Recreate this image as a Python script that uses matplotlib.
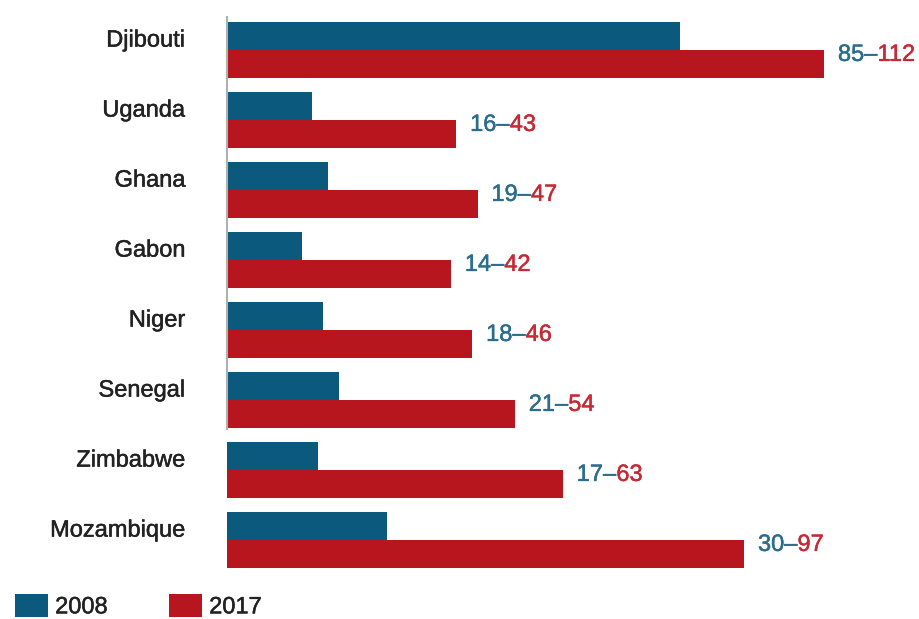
"""
Horizontal paired bar chart: 2008 vs 2017 values by country
"""

import matplotlib
matplotlib.use('Agg')
import matplotlib.pyplot as plt
import matplotlib.patheffects as pe
from matplotlib.patches import Patch
from matplotlib.offsetbox import TextArea, HPacker, AnnotationBbox

countries = ['Djibouti', 'Uganda', 'Ghana', 'Gabon', 'Niger', 'Senegal', 'Zimbabwe', 'Mozambique']
values_2008 = [85, 16, 19, 14, 18, 21, 17, 30]
values_2017 = [112, 43, 47, 42, 46, 54, 63, 97]
series_labels = ['2008', '2017']

BLUE = '#0b5a7d'
RED = '#b8161f'
BLUE_TXT = '#2c6c8c'
RED_TXT = '#c52a35'
DARK = '#222222'
FONT = 'Liberation Sans'
FS = 17

plt.rcParams['font.family'] = [FONT, 'DejaVu Sans']


def heavy(color):
    # thicken the regular face a little
    return [pe.withStroke(linewidth=0.35, foreground=color)]


fig = plt.figure(figsize=(9.2, 6.19), dpi=100)
ax = fig.add_axes([227 / 920, 1 - 575 / 619, 693 / 920, 560 / 619])

bar_h = 0.4
ypos = list(range(len(countries)))
ax.barh([y - bar_h / 2 for y in ypos], values_2008, height=bar_h, color=BLUE, linewidth=0)
ax.barh([y + bar_h / 2 for y in ypos], values_2017, height=bar_h, color=RED, linewidth=0)

ax.set_xlim(0, 130)
ax.set_ylim(7.5, -0.5)

# country names sit next to the 2008 bar
ax.set_yticks([y - 0.17 for y in ypos])
ax.set_yticklabels(countries, fontsize=FS, color=DARK)
for lbl in ax.get_yticklabels():
    lbl.set_path_effects(heavy(DARK))
ax.tick_params(axis='y', length=0, pad=30)
ax.set_xticks([])

for side in ['top', 'right', 'bottom']:
    ax.spines[side].set_visible(False)
ax.spines['left'].set_color('#b0b0b0')
ax.spines['left'].set_linewidth(1.5)
ax.spines['left'].set_bounds(5.42, -0.47)

# two-colour value labels "2008–2017" at the end of the red bar
for y, v08, v17 in zip(ypos, values_2008, values_2017):
    part1 = TextArea(f'{v08}\u2013', textprops=dict(color=BLUE_TXT, fontsize=FS,
                                                    path_effects=heavy(BLUE_TXT)))
    part2 = TextArea(f'{v17}', textprops=dict(color=RED_TXT, fontsize=FS,
                                              path_effects=heavy(RED_TXT)))
    box = HPacker(children=[part1, part2], align='baseline', pad=0, sep=0)
    ab = AnnotationBbox(box, (v17, y + 0.07), xybox=(10, 0), xycoords='data',
                        boxcoords='offset points', box_alignment=(0, 0.5),
                        frameon=False, pad=0)
    ax.add_artist(ab)

handles = [Patch(facecolor=BLUE, edgecolor='none'), Patch(facecolor=RED, edgecolor='none')]
leg = fig.legend(handles, series_labels, loc='upper left', bbox_to_anchor=(15 / 920, 1 - 594 / 619),
                 ncol=2, frameon=False, fontsize=FS, handlelength=1.4, handleheight=1.1,
                 handletextpad=0.3, columnspacing=2.6, borderpad=0, borderaxespad=0)
for t in leg.get_texts():
    t.set_color(DARK)
    t.set_path_effects(heavy(DARK))

fig.savefig('out.png', dpi=100)
plt.close(fig)
